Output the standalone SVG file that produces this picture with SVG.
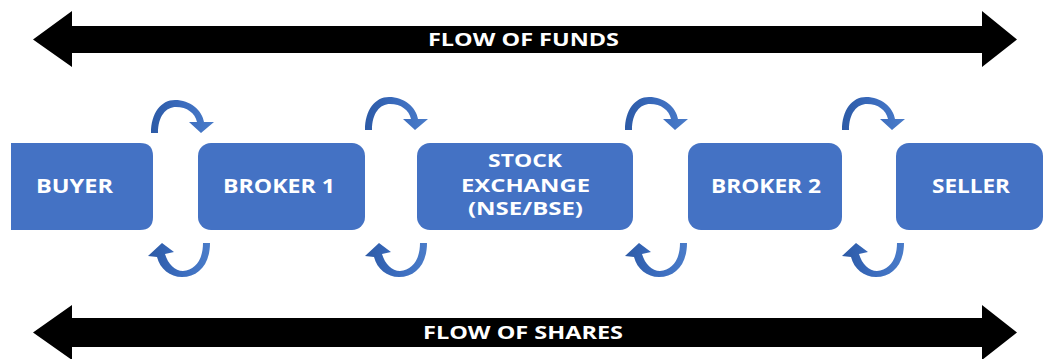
<svg xmlns="http://www.w3.org/2000/svg" xmlns:xlink="http://www.w3.org/1999/xlink" width="1045" height="359" viewBox="0 0 1045 359">
  <style>
    .box { fill: #4472c4; }
    .lbl { font-family: "Open Sans", "Liberation Sans", sans-serif; font-weight: 700; fill: #ffffff; text-anchor: start; }
    .box-lbl { font-size: 19px; }
    .stack-lbl { font-size: 17px; }
    .flow-lbl { font-size: 17.5px; }
    .band { fill: #000000; }
    .swap { fill: url(#swapShade); }
  </style>
  <defs>
    <linearGradient id="swapShade" x1="0" y1="0" x2="1" y2="0">
      <stop offset="0" stop-color="#2c5aa6"/>
      <stop offset="0.5" stop-color="#3a6bbd"/>
      <stop offset="1" stop-color="#4a7cc9"/>
    </linearGradient>
    <!-- arch over a gap, head pointing down on the right -->
    <path id="archOver" d="M0,33 C0,13 10,0 24,0 C39,0 51,10 53,22 L63,22 L50,33 L38,22 L46,22 C44,13 36,7 25,7 C15,7 7,16 7,33 Z"/>
    <!-- cup under a gap, head pointing up on the left -->
    <path id="cupUnder" d="M55,0 L62,0 C62,22 50,34 34,34 C22,34 12,26 9,14 L0,13 L14,0 L26,9 L17,11 C20,21 27,28 35,28 C47,27 55,17 55,0 Z"/>
  </defs>

  <!-- top band: flow of funds -->
  <g id="flow-funds">
    <path class="band" d="M33,39.5 L72,11 L72,26 L982,26 L982,11 L1017,39.5 L982,67 L982,53 L72,53 L72,67 Z"/>
    <text class="lbl flow-lbl" x="428" y="46" textLength="191" lengthAdjust="spacingAndGlyphs">FLOW OF FUNDS</text>
  </g>

  <!-- bottom band: flow of shares -->
  <g id="flow-shares">
    <path class="band" d="M33,332.5 L72,305 L72,318 L982,318 L982,305 L1017,332.5 L982,360 L982,347 L72,347 L72,360 Z"/>
    <text class="lbl flow-lbl" x="423" y="339" textLength="200" lengthAdjust="spacingAndGlyphs">FLOW OF SHARES</text>
  </g>

  <g id="buyer">
    <path class="box" d="M11,143 H140 Q153,143 153,156 V217 Q153,230 140,230 H11 Z"/>
    <text class="lbl box-lbl" x="36" y="193" textLength="77" lengthAdjust="spacingAndGlyphs">BUYER</text>
  </g>

  <g id="broker-1">
    <rect class="box" x="198" y="143" width="167" height="87" rx="13"/>
    <text class="lbl box-lbl" x="223" y="193" textLength="112" lengthAdjust="spacingAndGlyphs">BROKER 1</text>
  </g>

  <g id="stock-exchange">
    <rect class="box" x="417" y="143" width="216" height="87" rx="13"/>
    <text class="lbl stack-lbl" x="488" y="167" textLength="74" lengthAdjust="spacingAndGlyphs">STOCK</text>
    <text class="lbl stack-lbl" x="461" y="192" textLength="129" lengthAdjust="spacingAndGlyphs">EXCHANGE</text>
    <text class="lbl stack-lbl" x="468" y="215" textLength="115" lengthAdjust="spacingAndGlyphs">(NSE/BSE)</text>
  </g>

  <g id="broker-2">
    <rect class="box" x="688" y="143" width="154" height="87" rx="13"/>
    <text class="lbl box-lbl" x="711" y="193" textLength="110" lengthAdjust="spacingAndGlyphs">BROKER 2</text>
  </g>

  <g id="seller">
    <rect class="box" x="896" y="143" width="147" height="87" rx="13"/>
    <text class="lbl box-lbl" x="932" y="193" textLength="78" lengthAdjust="spacingAndGlyphs">SELLER</text>
  </g>

  <!-- exchange arrows between neighbouring parties -->
  <g id="connectors" class="swap">
    <use xlink:href="#archOver" transform="translate(151,100)"/>
    <use xlink:href="#cupUnder" transform="translate(148,243)"/>
    <use xlink:href="#archOver" transform="translate(365,97)"/>
    <use xlink:href="#cupUnder" transform="translate(365,243)"/>
    <use xlink:href="#archOver" transform="translate(625,97)"/>
    <use xlink:href="#cupUnder" transform="translate(625,243)"/>
    <use xlink:href="#archOver" transform="translate(842,97)"/>
    <use xlink:href="#cupUnder" transform="translate(842,243)"/>
  </g>
</svg>
